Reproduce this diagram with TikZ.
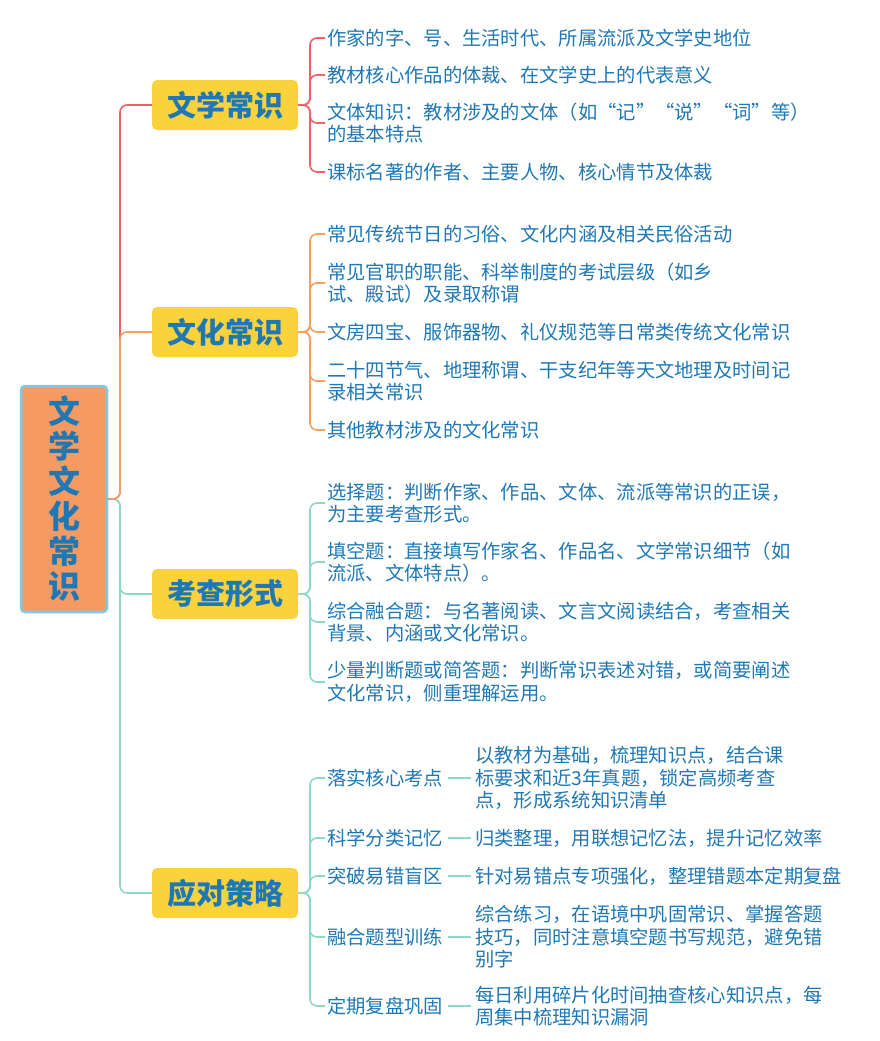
\documentclass[tikz,border=0pt]{standalone}
\usepackage{fontspec}
\setmainfont{Noto Sans CJK SC}
\definecolor{txtblue}{HTML}{1F78B4}
\definecolor{redline}{HTML}{E8636A}
\definecolor{orgline}{HTML}{F2A064}
\definecolor{tealline}{HTML}{8ED8C8}
\definecolor{yel}{HTML}{F9D23C}
\definecolor{rootfill}{HTML}{F59A62}
\definecolor{rootdraw}{HTML}{7EC8E8}
\tikzset{
  rootbox/.style={draw=rootdraw, line width=2.5pt, fill=rootfill, rounded corners=4pt,
    minimum width=86pt, minimum height=226pt, text=txtblue, font=\fontsize{32}{35}\selectfont\bfseries, align=center},
  mainbox/.style={fill=yel, rounded corners=5pt, minimum width=146pt, minimum height=50pt,
    text=txtblue, font=\fontsize{29}{34}\selectfont\bfseries},
  leaf/.style={anchor=west, inner sep=2pt, text=txtblue, align=left, font=\fontsize{19.3}{22.5}\selectfont},
  link/.style={line width=1.6pt, rounded corners=7pt},
}
\begin{document}
\begin{tikzpicture}[x=1pt,y=-1pt]
\useasboundingbox (0,0) rectangle (880,1041);
% root and main topics
\node (root) [rootbox] at (64,499) {文\\学\\文\\化\\常\\识};
\node (lit) [mainbox] at (225,105) {文学常识};
\node (cul) [mainbox] at (225,332) {文化常识};
\node (form) [mainbox] at (225,594) {考查形式};
\node (plan) [mainbox] at (225,893) {应对策略};

\draw[link, tealline] (root.east) -- (120,499) |- (plan.west);
\draw[link, tealline] (root.east) -- (120,499) |- (form.west);
\draw[link, redline] (root.east) -- (120,499) |- (lit.west);
\draw[link, orgline] (root.east) -- (120,499) |- (cul.west);

% literature
\node (lit1) [leaf] at (325,38) {作家的字、号、生活时代、所属流派及文学史地位};
\node (lit2) [leaf] at (325,75) {教材核心作品的体裁、在文学史上的代表意义};
\node (lit3) [leaf] at (325,123) {文体知识：教材涉及的文体（如“记”“说”“词”等）\\的基本特点};
\node (lit4) [leaf] at (325,172) {课标名著的作者、主要人物、核心情节及体裁};
\foreach \n in {lit1,lit2,lit3,lit4}
  \draw[link, redline] (lit.east) -- (310,105) |- (\n.west);

% culture
\node (cul1) [leaf] at (325,234) {常见传统节日的习俗、文化内涵及相关民俗活动};
\node (cul2) [leaf] at (325,283) {常见官职的职能、科举制度的考试层级（如乡\\试、殿试）及录取称谓};
\node (cul3) [leaf] at (325,332) {文房四宝、服饰器物、礼仪规范等日常类传统文化常识};
\node (cul4) [leaf] at (325,381) {二十四节气、地理称谓、干支纪年等天文地理及时间记\\录相关常识};
\node (cul5) [leaf] at (325,430) {其他教材涉及的文化常识};
\foreach \n in {cul1,cul2,cul3,cul4,cul5}
  \draw[link, orgline] (cul.east) -- (310,332) |- (\n.west);

% exam forms
\node (form1) [leaf] at (325,503) {选择题：判断作家、作品、文体、流派等常识的正误，\\为主要考查形式。};
\node (form2) [leaf] at (325,562) {填空题：直接填写作家名、作品名、文学常识细节（如\\流派、文体特点）。};
\node (form3) [leaf] at (325,622) {综合融合题：与名著阅读、文言文阅读结合，考查相关\\背景、内涵或文化常识。};
\node (form4) [leaf] at (325,682) {少量判断题或简答题：判断常识表述对错，或简要阐述\\文化常识，侧重理解运用。};
\foreach \n in {form1,form2,form3,form4}
  \draw[link, tealline] (form.east) -- (310,594) |- (\n.west);

% strategies
\node (st1) [leaf] at (325,778) {落实核心考点};
\node (st2) [leaf] at (325,838) {科学分类记忆};
\node (st3) [leaf] at (325,876) {突破易错盲区};
\node (st4) [leaf] at (325,937) {融合题型训练};
\node (st5) [leaf] at (325,1006) {定期复盘巩固};
\node (de1) [leaf] at (473,778) {以教材为基础，梳理知识点，结合课\\标要求和近3年真题，锁定高频考查\\点，形成系统知识清单};
\node (de2) [leaf] at (473,838) {归类整理，用联想记忆法，提升记忆效率};
\node (de3) [leaf] at (473,876) {针对易错点专项强化，整理错题本定期复盘};
\node (de4) [leaf] at (473,937) {综合练习，在语境中巩固常识、掌握答题\\技巧，同时注意填空题书写规范，避免错\\别字};
\node (de5) [leaf] at (473,1006) {每日利用碎片化时间抽查核心知识点，每\\周集中梳理知识漏洞};
\foreach \n in {st1,st2,st3,st4,st5}
  \draw[link, tealline] (plan.east) -- (310,893) |- (\n.west);
\foreach \a/\b in {st1/de1,st2/de2,st3/de3,st4/de4,st5/de5}
  \draw[link, tealline] ([xshift=3pt]\a.east) -- ([xshift=-2pt]\b.west);
\end{tikzpicture}
\end{document}
